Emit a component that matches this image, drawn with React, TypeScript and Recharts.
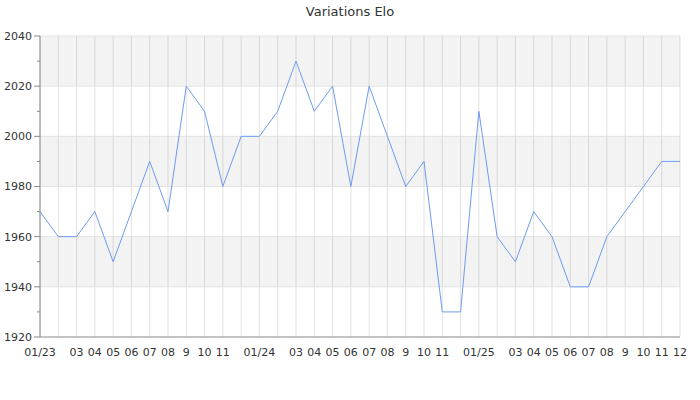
import React from 'react';
import { LineChart, Line, XAxis, YAxis, CartesianGrid, ReferenceArea, ReferenceLine } from 'recharts';

const months = [
  '2023-01','2023-02','2023-03','2023-04','2023-05','2023-06','2023-07','2023-08','2023-09','2023-10','2023-11','2023-12',
  '2024-01','2024-02','2024-03','2024-04','2024-05','2024-06','2024-07','2024-08','2024-09','2024-10','2024-11','2024-12',
  '2025-01','2025-02','2025-03','2025-04','2025-05','2025-06','2025-07','2025-08','2025-09','2025-10','2025-11','2025-12',
];
const tickLabels = [
  '01/23','','03','04','05','06','07','08','9','10','11','',
  '01/24','','03','04','05','06','07','08','9','10','11','',
  '01/25','','03','04','05','06','07','08','9','10','11','12',
];
const elo = [
  1970,1960,1960,1970,1950,1970,1990,1970,2020,2010,1980,2000,
  2000,2010,2030,2010,2020,1980,2020,2000,1980,1990,1930,1930,
  2010,1960,1950,1970,1960,1940,1940,1960,1970,1980,1990,1990,
];
const yTicks = [1920,1930,1940,1950,1960,1970,1980,1990,2000,2010,2020,2030,2040];
const gridValues = [1940,1960,1980,2000,2020,2040];
const bands = [[2020,2040],[1980,2000],[1940,1960]];

const data = months.map((m, i) => ({ month: m, label: tickLabels[i], elo: elo[i] }));

const FONT = '"DejaVu Sans", sans-serif';

const YTick = (props: any) => {
  const { x, y, payload } = props;
  const major = payload.value % 20 === 0;
  return (
    <g>
      <line x1={x - (major ? 6 : 3)} x2={x} y1={y} y2={y} stroke="#888" />
      {major && (
        <text x={x - 8} y={y} dy="0.35em" textAnchor="end" fontSize={11} fill="#333" fontFamily={FONT}>
          {payload.value}
        </text>
      )}
    </g>
  );
};

const XTick = (props: any) => {
  const { x, y, index } = props;
  const label = tickLabels[index];
  if (!label) return null;
  return (
    <text x={x} y={y} dy="0.35em" textAnchor="middle" fontSize={11} fill="#333" fontFamily={FONT}>
      {label}
    </text>
  );
};

export default function App() {
  return (
    <div style={{ position: 'absolute', left: 0, top: 0, width: 700, height: 400, background: '#fff' }}>
      <div style={{ position: 'absolute', top: 4, left: 0, width: 700, textAlign: 'center', fontFamily: FONT, fontSize: 13, color: '#333' }}>
        Variations Elo
      </div>
      <LineChart width={700} height={400} data={data} margin={{ top: 36, right: 20, left: 0, bottom: 33 }}>
        <CartesianGrid horizontal={false} stroke="#e3e3e3" />
        {bands.map(([a, b]) => (
          <ReferenceArea key={a} y1={a} y2={b} fill="#000" fillOpacity={0.047} stroke="none" ifOverflow="visible" />
        ))}
        {gridValues.map((v) => (
          <ReferenceLine key={v} y={v} stroke="#e3e3e3" />
        ))}
        <XAxis
          dataKey="month"
          interval={0}
          tickLine={false}
          axisLine={{ stroke: '#888' }}
          height={30}
          tickSize={0}
          tickMargin={15}
          tick={<XTick />}
        />
        <YAxis
          domain={[1920, 2040]}
          ticks={yTicks}
          interval={0}
          width={40}
          tickSize={0}
          tickMargin={0}
          tickLine={false}
          axisLine={{ stroke: '#888' }}
          tick={<YTick />}
        />
        <Line type="linear" dataKey="elo" stroke="#6d9bf1" strokeWidth={1} dot={false} isAnimationActive={false} />
      </LineChart>
    </div>
  );
}
